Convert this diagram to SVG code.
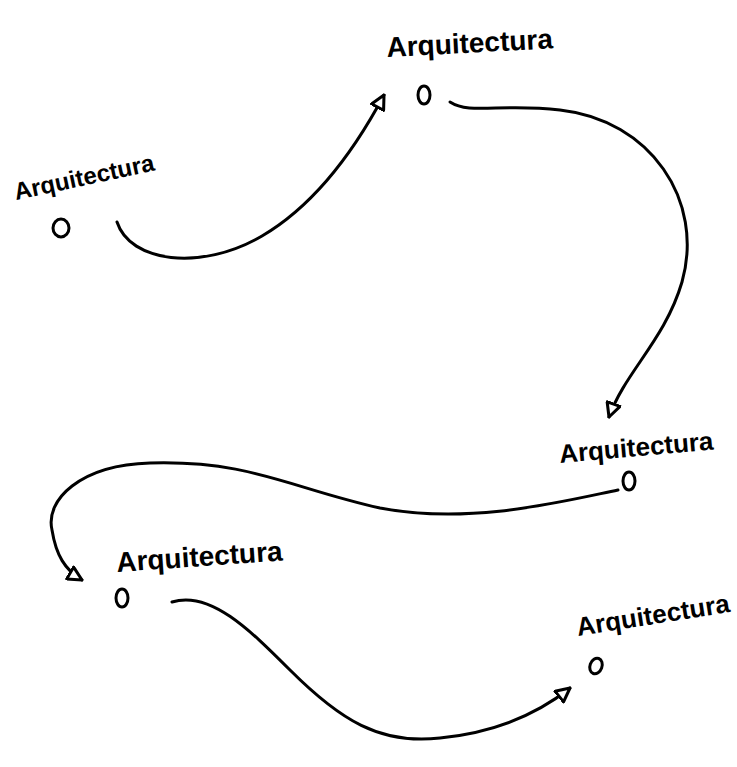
<svg xmlns="http://www.w3.org/2000/svg" width="737" height="767" viewBox="0 0 737 767">
<style>
.lbl{font-family:"Liberation Sans",Arial,sans-serif;font-size:28px;font-weight:bold;fill:#000;}
.nd{fill:none;stroke:#000;stroke-width:3;}
.cn{fill:none;stroke:#000;stroke-width:3;stroke-linecap:round;}
</style>
<defs>
<marker id="arr" viewBox="0 0 12 12" refX="11" refY="6" markerWidth="5.5" markerHeight="5.5" orient="auto" markerUnits="strokeWidth">
<path d="M1,1 L11,6 L1,11 Z" fill="#fff" stroke="#000" stroke-width="2.2" stroke-linejoin="round"/>
</marker>
</defs>
<rect width="737" height="767" fill="#fff"/>
<g id="connectors">
<path class="cn" marker-end="url(#arr)" d="M117,222 C130,262 200,272 262,236 C320,202 360,140 384,95"/>
<path class="cn" marker-end="url(#arr)" d="M450,102 C470,115 500,103 560,110 C650,120 705,200 682,282 C665,340 625,372 609,417"/>
<path class="cn" marker-end="url(#arr)" d="M618,490 C560,502 470,525 380,508 C290,488 250,460 150,463 C80,465 45,500 52,530 C56,555 65,570 82,580"/>
<path class="cn" marker-end="url(#arr)" d="M172,602 C210,590 250,630 290,670 C340,720 380,745 440,738 C500,732 540,712 570,688"/>
</g>
<g id="n1">
<text class="lbl" style="font-size:24px" transform="translate(16,200) rotate(-12)">Arquitectura</text>
<ellipse class="nd" cx="61" cy="228" rx="8" ry="9"/>
</g>
<g id="n2">
<text class="lbl" transform="translate(387,57) rotate(-3)">Arquitectura</text>
<ellipse class="nd" cx="424" cy="95" rx="6" ry="9"/>
</g>
<g id="n3">
<text class="lbl" style="font-size:26px" transform="translate(560,463) rotate(-5)">Arquitectura</text>
<ellipse class="nd" cx="629" cy="481" rx="6" ry="9"/>
</g>
<g id="n4">
<text class="lbl" transform="translate(117,572) rotate(-4)">Arquitectura</text>
<ellipse class="nd" cx="122" cy="598" rx="6" ry="9"/>
</g>
<g id="n5">
<text class="lbl" style="font-size:26px" transform="translate(578,636) rotate(-9)">Arquitectura</text>
<ellipse class="nd" cx="596" cy="666" rx="6" ry="8" transform="rotate(20 596 666)"/>
</g>
</svg>
